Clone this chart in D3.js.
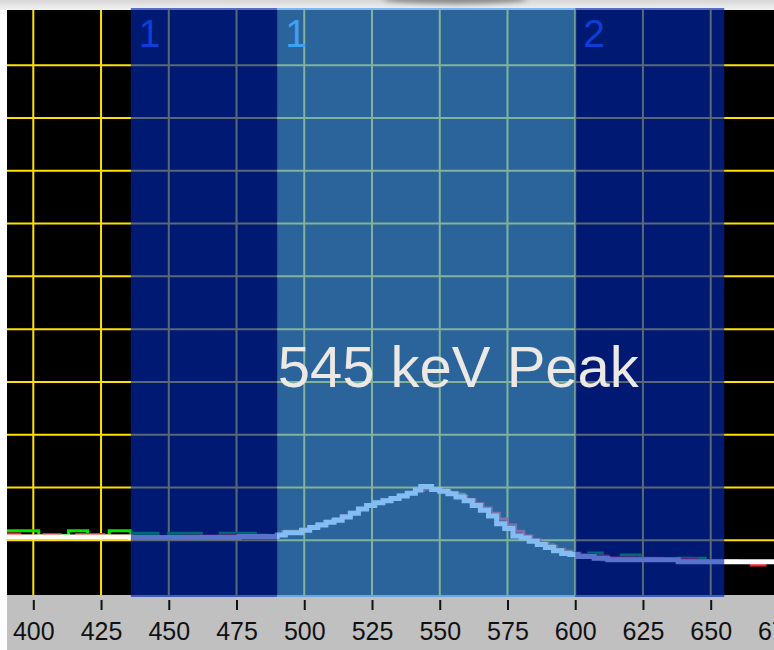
<!DOCTYPE html>
<html>
<head>
<meta charset="utf-8">
<script src="https://cdn.jsdelivr.net/npm/d3@7"></script>
<style>
  html, body { margin: 0; padding: 0; background: #ffffff; }
  svg { display: block; }
</style>
</head>
<body>
<svg id="chart" width="774" height="650"></svg>
<script>
// ---- Spectrum data (energy in keV where each channel step starts, counts) ----
const mainEnergy = [386, 436, 476, 490, 493, 499, 502, 505, 508, 511, 514, 517, 520, 523, 526, 529, 532, 535, 538, 541, 543, 547, 550, 553, 556, 559, 562, 565, 568, 571, 574, 577, 580, 583, 586, 589, 592, 595, 598, 601, 607, 612, 638, 680];
const mainCounts = [106, 105, 107, 110, 114, 119, 124, 129, 134, 138, 144, 151, 159, 166, 171, 175, 179, 184, 189, 195, 202, 196, 193, 188, 182, 175, 166, 157, 146, 131, 122, 108, 104, 98, 92, 86, 80, 75, 73, 69, 66, 63, 59, 59];

const redEnergy = [386, 395, 404, 410, 416, 426, 436, 455, 470, 486, 492, 499, 502, 505, 508, 511, 514, 517, 520, 523, 526, 529, 532, 535, 538, 541, 544, 548, 551, 554, 557, 560, 563, 566, 569, 572, 575, 578, 581, 584, 587, 590, 593, 596, 599, 602, 607, 612, 622, 632, 645, 660, 665, 670, 680];
const redCounts = [112, 108, 111, 106, 111, 108, 107, 108, 110, 109, 116, 121, 126, 131, 136, 141, 147, 153, 160, 166, 172, 177, 181, 186, 190, 194, 197, 196, 193, 189, 184, 177, 169, 161, 151, 140, 129, 117, 108, 101, 95, 89, 83, 78, 76, 73, 70, 67, 66, 64, 61, 59, 53, 59, 59];

const greenEnergy = [386, 402, 413, 420, 428, 436, 446, 450, 462, 469, 482, 490, 493, 499, 502, 505, 508, 511, 514, 517, 520, 523, 526, 529, 532, 535, 538, 541, 543, 547, 550, 553, 556, 559, 562, 565, 568, 571, 574, 577, 580, 583, 586, 589, 592, 595, 598, 601, 605, 610, 617, 624, 638, 648, 680];
const greenCounts = [118, 109, 118, 109, 118, 113, 107, 113, 107, 113, 107, 110, 117, 119, 124, 129, 134, 138, 144, 151, 159, 166, 171, 175, 179, 184, 189, 195, 202, 196, 193, 188, 187, 175, 166, 157, 149, 131, 122, 108, 104, 98, 95, 91, 80, 79, 73, 69, 76, 63, 72, 63, 66, 59, 59];

// ---- Regions of interest ----
const regionStart = [436, 490, 600];
const regionEnd = [490, 600, 655];
const regionLabels = ["1", "1", "2"];
const regionKinds = ["background", "peak", "background"];

// ---- Axis ticks and annotation ----
const tickValues = [400, 425, 450, 475, 500, 525, 550, 575, 600, 625, 650, 675];
const countGrid = [100, 200, 300, 400, 500, 600, 700, 800, 900, 1000];
const peakLabel = "545 keV Peak";
const peakLabelEnergy = 490.2;
const peakLabelCounts = 390;

// ---- Layout ----
const W = 774, H = 650;
const plot = { left: 7, right: 774, top: 10, bottom: 595 };

const x = d3.scaleLinear().domain([400, 650]).range([33.3, 710.7]);
const y = d3.scaleLinear().domain([0, 1100]).range([593, 12.5]);

const svg = d3.select("#chart");
const defs = svg.append("defs");

const topGrad = defs.append("linearGradient").attr("id", "topGrad")
  .attr("x1", 0).attr("y1", 0).attr("x2", 0).attr("y2", 1);
topGrad.append("stop").attr("offset", "0%").attr("stop-color", "#d6d6d6");
topGrad.append("stop").attr("offset", "100%").attr("stop-color", "#f2f2f2");

defs.append("filter").attr("id", "soft")
  .attr("x", "-20%").attr("y", "-200%").attr("width", "140%").attr("height", "500%")
  .append("feGaussianBlur").attr("stdDeviation", 2.5);

defs.append("clipPath").attr("id", "plotClip")
  .append("rect")
  .attr("x", plot.left).attr("y", plot.top)
  .attr("width", plot.right - plot.left).attr("height", plot.bottom - plot.top);

// Window strip along the top edge
svg.append("rect").attr("x", 0).attr("y", 0).attr("width", W).attr("height", plot.top)
  .attr("fill", "url(#topGrad)");
svg.append("ellipse").attr("cx", 455).attr("cy", -1).attr("rx", 72).attr("ry", 5)
  .attr("fill", "#8a8a8a").attr("filter", "url(#soft)");

// Axis band
svg.append("rect").attr("x", plot.left).attr("y", plot.bottom)
  .attr("width", W - plot.left).attr("height", H - plot.bottom)
  .attr("fill", "#c0c0c0");

// Plot background
svg.append("rect").attr("x", plot.left).attr("y", plot.top)
  .attr("width", plot.right - plot.left).attr("height", plot.bottom - plot.top)
  .attr("fill", "#000000");

const inner = svg.append("g").attr("clip-path", "url(#plotClip)");

// Grid
inner.append("g").selectAll("line.v").data(tickValues).join("line")
  .attr("x1", d => x(d)).attr("x2", d => x(d))
  .attr("y1", plot.top).attr("y2", plot.bottom)
  .attr("stroke", "#ffe000").attr("stroke-width", 2);
inner.append("g").selectAll("line.h").data(countGrid).join("line")
  .attr("x1", plot.left).attr("x2", plot.right)
  .attr("y1", d => y(d)).attr("y2", d => y(d))
  .attr("stroke", "#ffe000").attr("stroke-width", 2);

// Spectrum traces
const zip = (es, cs) => es.map((e, i) => ({ e, c: cs[i] }));
const line = d3.line().x(d => x(d.e)).y(d => y(d.c)).curve(d3.curveStepAfter);

inner.append("path").datum(zip(greenEnergy, greenCounts))
  .attr("d", line).attr("fill", "none")
  .attr("stroke", "#00e400").attr("stroke-width", 3);
inner.append("path").datum(zip(redEnergy, redCounts))
  .attr("d", line).attr("fill", "none")
  .attr("stroke", "#f02828").attr("stroke-width", 3);
inner.append("path").datum(zip(mainEnergy, mainCounts))
  .attr("d", line).attr("fill", "none")
  .attr("stroke", "#ffffff").attr("stroke-width", 5);

// Region overlays (translucent, over grid and traces)
const regionFill = { background: "#0028b2", peak: "#4099ed" };
const labelFill = { background: "#0d3fd8", peak: "#3fa0f4" };
const regions = regionStart.map((s, i) => ({ s, e: regionEnd[i], label: regionLabels[i], kind: regionKinds[i] }));

svg.append("g").selectAll("rect").data(regions).join("rect")
  .attr("x", d => x(d.s)).attr("width", d => x(d.e) - x(d.s))
  .attr("y", plot.top - 2).attr("height", plot.bottom - plot.top + 4)
  .attr("fill", d => regionFill[d.kind]).attr("fill-opacity", 0.65);

svg.append("g").selectAll("text").data(regions).join("text")
  .attr("x", d => x(d.s) + 8).attr("y", 47)
  .attr("font-family", "'Liberation Sans', Arial, sans-serif")
  .attr("font-size", 39)
  .attr("fill", d => labelFill[d.kind])
  .text(d => d.label);

// Bottom axis
const axis = d3.axisBottom(x).tickValues(tickValues).tickSize(10).tickPadding(12)
  .tickFormat(d3.format("d"));
const ax = svg.append("g").attr("transform", `translate(0,${plot.bottom + 5})`).call(axis);
ax.select(".domain").remove();
ax.selectAll(".tick line").attr("stroke", "#111111").attr("stroke-width", 2);
ax.selectAll(".tick text")
  .attr("fill", "#111111")
  .attr("font-family", "'Liberation Sans', Arial, sans-serif")
  .attr("font-size", 25);

// Peak annotation
svg.append("text")
  .attr("x", x(peakLabelEnergy)).attr("y", y(peakLabelCounts))
  .attr("font-family", "'Liberation Sans', Arial, sans-serif")
  .attr("font-size", 58)
  .attr("fill", "#ebe8e5")
  .text(peakLabel);
</script>
</body>
</html>
